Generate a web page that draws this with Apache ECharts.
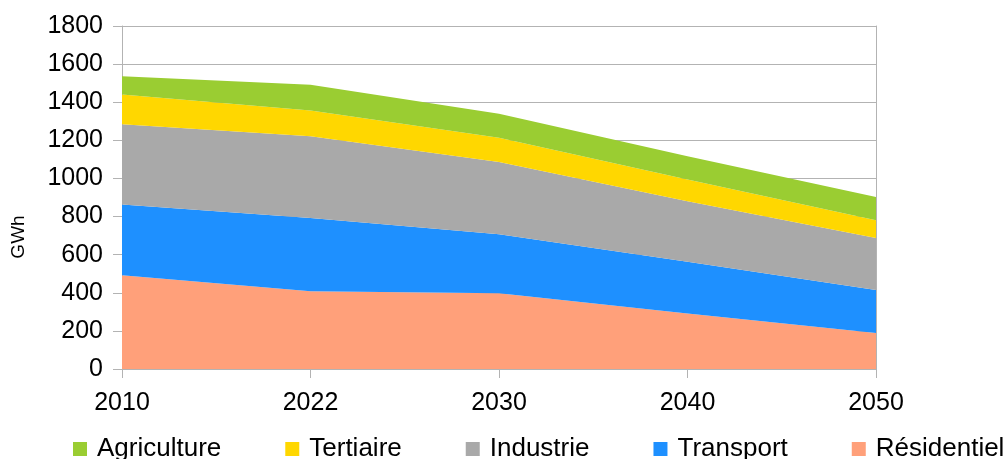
<!DOCTYPE html>
<html>
<head>
<meta charset="utf-8">
<title>Consommation d'énergie par secteur</title>
<script src="https://cdn.jsdelivr.net/npm/echarts@6/dist/echarts.min.js"></script>
<style>
  html, body { margin: 0; padding: 0; background: #ffffff; }
  #chart { width: 1007px; height: 459px; }
</style>
</head>
<body>
<div id="chart"></div>
<script>
// Années
const years = ['2010', '2022', '2030', '2040', '2050'];

// Consommation par secteur (GWh), empilée de bas en haut
const residentiel = [492, 408, 397, 291, 189];
const transport   = [371, 384, 310, 272, 226];
const industrie   = [421, 430, 379, 317, 272];
const tertiaire   = [157, 135, 128, 115,  93];
const agriculture = [ 95, 135, 126, 122, 122];

// Graduations de l'axe vertical
const yMin = 0;
const yMax = 1800;
const yStep = 200;

const FONT = '"Liberation Sans", Arial, sans-serif';
const GRID_COLOR = '#b3b3b3';

const stackOrder = [
  { name: 'Résidentiel', data: residentiel, color: '#FFA07A' },
  { name: 'Transport',   data: transport,   color: '#1E90FF' },
  { name: 'Industrie',   data: industrie,   color: '#A9A9A9' },
  { name: 'Tertiaire',   data: tertiaire,   color: '#FFD700' },
  { name: 'Agriculture', data: agriculture, color: '#9ACD32' }
];

const chart = echarts.init(document.getElementById('chart'), null, { renderer: 'canvas' });

chart.setOption({
  animation: false,
  backgroundColor: '#ffffff',
  textStyle: { fontFamily: FONT },
  grid: { left: 122, right: 131, top: 26, bottom: 90, containLabel: false, outerBoundsMode: 'none' },
  graphic: [
    {
      type: 'text',
      x: 19,
      y: 237,
      rotation: Math.PI / 2,
      style: {
        text: 'GWh',
        fontSize: 19,
        fontFamily: FONT,
        fill: '#000000',
        align: 'center',
        verticalAlign: 'middle'
      }
    }
  ],
  legend: {
    data: ['Agriculture', 'Tertiaire', 'Industrie', 'Transport', 'Résidentiel'],
    left: 73,
    top: 436,
    width: 1200,
    orient: 'horizontal',
    icon: 'rect',
    itemWidth: 14,
    itemHeight: 14,
    itemGap: 64,
    padding: 0,
    textStyle: { fontSize: 26, color: '#000000', fontFamily: FONT, padding: [0, 0, 0, 5] }
  },
  xAxis: {
    type: 'category',
    data: years,
    boundaryGap: false,
    axisLine: { show: true, lineStyle: { color: GRID_COLOR, width: 1 } },
    axisTick: { show: true, inside: false, length: 9, alignWithLabel: true, lineStyle: { color: GRID_COLOR } },
    axisLabel: { fontSize: 25, color: '#000000', margin: 22, fontFamily: FONT },
    splitLine: { show: false }
  },
  yAxis: [
    {
      type: 'value',
      min: yMin,
      max: yMax,
      interval: yStep,
      axisLine: { show: true, lineStyle: { color: GRID_COLOR, width: 1 } },
      axisTick: { show: true, inside: false, length: 9, lineStyle: { color: GRID_COLOR } },
      axisLabel: {
        fontSize: 25,
        color: '#000000',
        margin: 19,
        fontFamily: FONT,
        formatter: v => String(v)
      },
      splitLine: { show: true, lineStyle: { color: GRID_COLOR, width: 1 } }
    },
    {
      type: 'value',
      position: 'right',
      min: yMin,
      max: yMax,
      interval: yStep,
      axisLine: { show: true, lineStyle: { color: GRID_COLOR, width: 1 } },
      axisTick: { show: false },
      axisLabel: { show: false },
      splitLine: { show: false }
    }
  ],
  series: stackOrder.map(s => ({
    name: s.name,
    type: 'line',
    stack: 'total',
    data: s.data,
    yAxisIndex: 0,
    showSymbol: false,
    symbol: 'none',
    smooth: false,
    itemStyle: { color: s.color },
    lineStyle: { width: 0, color: s.color },
    areaStyle: { color: s.color, opacity: 1 },
    emphasis: { disabled: true }
  }))
});
</script>
</body>
</html>
